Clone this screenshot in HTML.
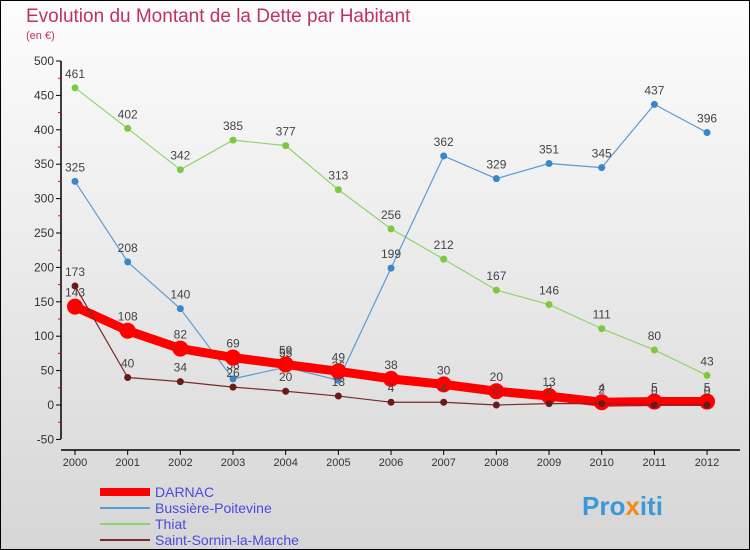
<!DOCTYPE html>
<html><head><meta charset="utf-8"><style>
body{margin:0;background:#fff}
svg{display:block;font-family:"Liberation Sans",sans-serif}
</style></head><body>
<svg width="750" height="550">
<defs><linearGradient id="bg" x1="0" y1="0" x2="0" y2="1"><stop offset="0" stop-color="#fdfdfd"/><stop offset="1" stop-color="#d6d6d6"/></linearGradient></defs>
<rect x="0.5" y="0.5" width="749" height="549" fill="url(#bg)" stroke="#000"/>
<text x="26" y="22" font-size="19" fill="#c2325e">Evolution du Montant de la Dette par Habitant</text>
<text x="26" y="39" font-size="11" fill="#c2325e">(en €)</text>
<g id="axes"></g><g id="series"></g><g id="legend"></g>
<text x="582" y="515" font-size="26" font-weight="bold" fill="#3a9ad9">Pro<tspan fill="#f08a1c">x</tspan>iti</text>
</svg>
<script>
const years=[2000,2001,2002,2003,2004,2005,2006,2007,2008,2009,2010,2011,2012];
const yTicks=[500,450,400,350,300,250,200,150,100,50,0,-50];
const darnac=[143,108,82,69,59,49,38,30,20,13,4,5,5];
const bussiere=[325,208,140,38,55,36,199,362,329,351,345,437,396];
const thiat=[461,402,342,385,377,313,256,212,167,146,111,80,43];
const sornin=[173,40,34,26,20,13,4,4,0,2,2,0,0];
const NS="http://www.w3.org/2000/svg";
const X=i=>75+i*52.67, Y=v=>405-v*0.688;
function mk(t,a,p){const e=document.createElementNS(NS,t);for(const k in a)e.setAttribute(k,a[k]);p.appendChild(e);return e;}
const ax=document.getElementById('axes');
mk('line',{x1:61,y1:61,x2:61,y2:439,stroke:'#000','stroke-width':1.5},ax);
mk('line',{x1:61,y1:450,x2:740,y2:450,stroke:'#000','stroke-width':1.5},ax);
yTicks.forEach(v=>{
 mk('line',{x1:56,y1:Y(v),x2:61,y2:Y(v),stroke:'#000'},ax);
 if(v>-50) mk('line',{x1:58,y1:Y(v-25),x2:61,y2:Y(v-25),stroke:'#e00'},ax);
 const t=mk('text',{x:54,y:Y(v)+4,'text-anchor':'end','font-size':12,fill:'#333'},ax);t.textContent=v;
 
 
});
years.forEach((y,i)=>{
 mk('line',{x1:X(i),y1:450,x2:X(i),y2:455,stroke:'#000'},ax);
 const t=mk('text',{x:X(i),y:466,'text-anchor':'middle','font-size':11,fill:'#333'},ax);t.textContent=y;
 
 
});
const sg=document.getElementById('series');
function draw(data,color,w,r,name,dot){
 const g=mk('g',{},sg);
 
 
 mk('polyline',{points:data.map((v,i)=>X(i)+','+Y(v)).join(' '),fill:'none',stroke:color,'stroke-width':w,'stroke-linejoin':'round'},g);
 data.forEach((v,i)=>{
  const c=mk('circle',{cx:X(i),cy:Y(v),r:r,fill:dot},g);
  
  
  const t=mk('text',{x:X(i),y:Y(v)-10,'text-anchor':'middle','font-size':12,fill:'#444'},g);t.textContent=v;
  
  
 });
}
draw(thiat,'#8fd46a',1.2,3.5,'thiat','#7cc843');
draw(bussiere,'#5b9bd5',1.2,3.5,'bussiere','#3a86c8');
draw(darnac,'#f00',9,8,'darnac','#f00');
draw(sornin,'#7a2a2a',1.2,3.5,'sornin','#6b1a1a');
const lg=document.getElementById('legend');
[['DARNAC','#f00',8],['Bussière-Poitevine','#5b9bd5',2],['Thiat','#8fd46a',2],['Saint-Sornin-la-Marche','#7a2a2a',2]].forEach((e,i)=>{
 const y=492+i*16;
 const g=mk('g',{},lg);
 
 
 mk('line',{x1:100,y1:y,x2:150,y2:y,stroke:e[1],'stroke-width':e[2]},g);
 const t=mk('text',{x:155,y:y+5,'font-size':14,fill:'#4a4ae0'},g);t.textContent=e[0];
});
</script>
</body></html>
